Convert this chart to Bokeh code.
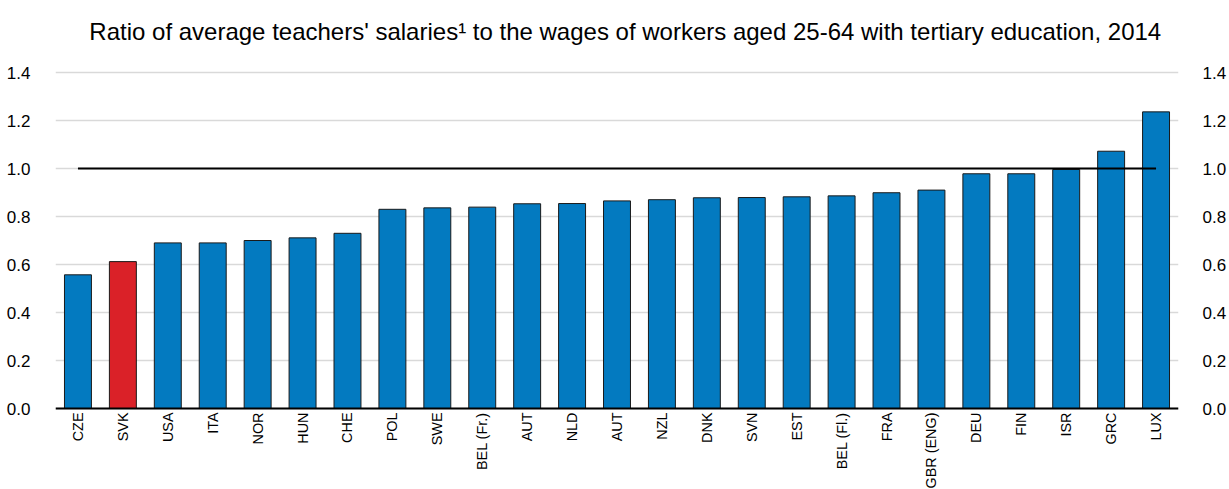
import math
from bokeh.plotting import figure
from bokeh.models import (Range1d, LinearAxis, FixedTicker, ColumnDataSource,
                          NumeralTickFormatter, Span)
from bokeh.core.properties import value
from bokeh.embed import file_html
from bokeh.resources import INLINE

countries = ["CZE", "SVK", "USA", "ITA", "NOR", "HUN", "CHE", "POL", "SWE", "BEL (Fr.)",
             "AUT", "NLD", "AUT", "NZL", "DNK", "SVN", "EST", "BEL (Fl.)", "FRA",
             "GBR (ENG)", "DEU", "FIN", "ISR", "GRC", "LUX"]
ratios = [0.557, 0.612, 0.690, 0.690, 0.700, 0.711, 0.730, 0.830, 0.836, 0.839,
          0.853, 0.854, 0.865, 0.870, 0.878, 0.879, 0.882, 0.886, 0.899,
          0.910, 0.978, 0.978, 0.996, 1.072, 1.236]
highlight = "SVK"
reference_level = 1.0
y_ticks = [0.0, 0.2, 0.4, 0.6, 0.8, 1.0, 1.2, 1.4]
title_text = "Ratio of average teachers' salaries\u00b9 to the wages of workers aged 25-64 with tertiary education, 2014"

BLUE = "#037AC0"
RED = "#DA2128"
FONT = "Liberation Sans"

W, H = 1229, 489
LEFT, RIGHT, TOP, ZERO = 55, 1183, 72, 408          # pixel layout of the plotting area
px_per_unit = (ZERO - TOP) / y_ticks[-1]

idx = list(range(len(countries)))
colors = [RED if c == highlight else BLUE for c in countries]
zeros = [0.0 for _ in countries]
src = ColumnDataSource(dict(x=idx, top=ratios, color=colors, name=countries, base=zeros))

y_start = -(H - ZERO) / px_per_unit
y_end = y_ticks[-1] + TOP / px_per_unit
p = figure(width=W, height=H, output_backend="svg", toolbar_location=None,
           x_range=Range1d(-0.5, len(countries) - 0.5), y_range=Range1d(y_start, y_end),
           min_border_left=LEFT, min_border_right=W - RIGHT, min_border_top=0, min_border_bottom=0)
p.outline_line_color = None
p.background_fill_color = "white"
p.border_fill_color = "white"

# gridlines only across the value range
p.xgrid.grid_line_color = None
p.ygrid.ticker = FixedTicker(ticks=y_ticks)
p.ygrid.grid_line_color = "#d9d9d9"
p.ygrid.grid_line_width = 1.5

p.vbar(x="x", top="top", width=0.6, bottom=0, source=src, fill_color="color",
       line_color="#1a1a1a", line_width=1)
p.line(x=[idx[0], idx[-1]], y=[reference_level, reference_level], line_color="black", line_width=2)
p.add_layout(Span(location=0, dimension="width", line_color="black", line_width=2))

# category labels, rotated, hanging under the baseline
p.text(x="x", y="base", text="name", source=src, angle=math.pi / 2,
       text_align="right", text_baseline="middle", y_offset=4,
       text_font=value(FONT), text_font_size="14.4px", text_color="black")

# title
x_per_px = len(countries) / (RIGHT - LEFT)
p.text(x=[-0.5 + 34 * x_per_px], y=[y_ticks[-1] + 41 / px_per_unit], text=[title_text],
       text_align="left", text_baseline="alphabetic",
       text_font=value(FONT), text_font_size="24px", text_color="black")

p.xaxis.visible = False

ya = p.yaxis[0]
ya.ticker = FixedTicker(ticks=y_ticks)
ya.formatter = NumeralTickFormatter(format="0.0")
ya.major_label_text_font = FONT
ya.major_label_text_font_size = "17px"
ya.major_label_text_color = "black"
ya.major_label_standoff = 19
ya.major_tick_line_color = None
ya.minor_tick_line_color = None
ya.axis_line_color = None

ra = LinearAxis(ticker=FixedTicker(ticks=y_ticks), formatter=NumeralTickFormatter(format="0.0"))
ra.major_label_text_font = FONT
ra.major_label_text_font_size = "17px"
ra.major_label_text_color = "black"
ra.major_label_standoff = 18
ra.major_tick_line_color = None
ra.minor_tick_line_color = None
ra.axis_line_color = None
p.add_layout(ra, "right")

open("out.html", "w").write(file_html(p, INLINE))
